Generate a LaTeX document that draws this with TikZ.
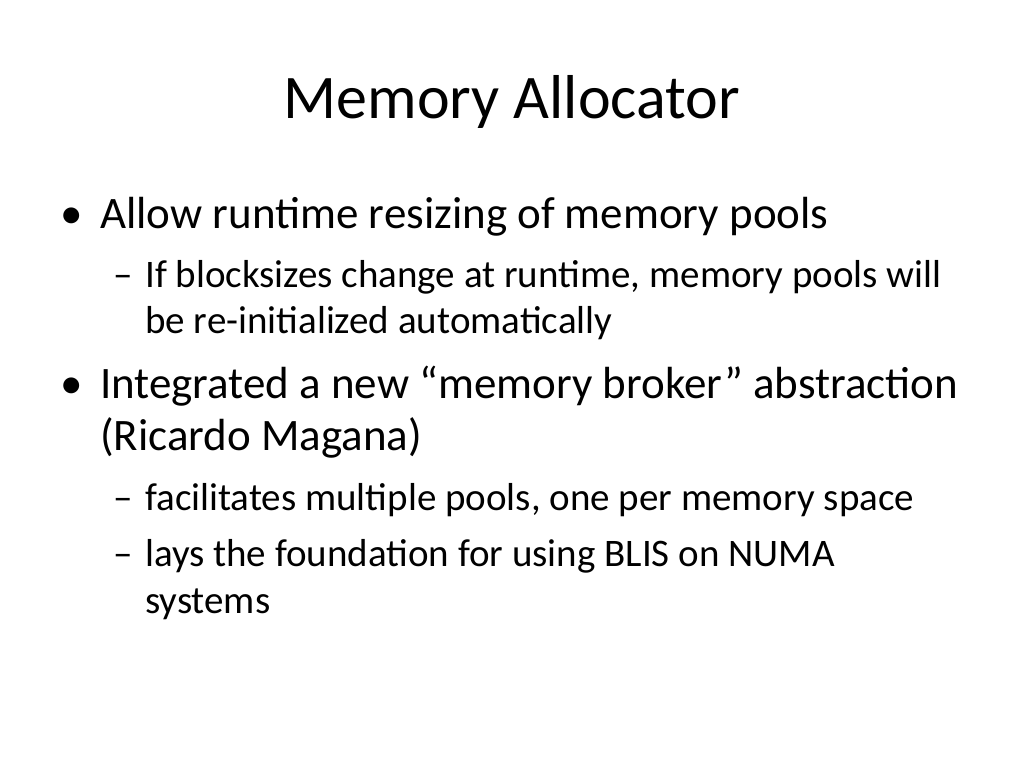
\documentclass[tikz,border=0pt]{standalone}
\usepackage{fontspec}
\setmainfont{Carlito}
\begin{document}
\begin{tikzpicture}[x=1pt,y=-1pt,
  l1/.style={anchor=base west,inner sep=0pt,font=\fontsize{45}{54}\selectfont},
  l2/.style={anchor=base west,inner sep=0pt,font=\fontsize{39}{47}\selectfont}]
\useasboundingbox (0,0) rectangle (1024,768);
\node[anchor=base,inner sep=0pt,font=\fontsize{62}{74}\selectfont] (title) at (512,118) {Memory Allocator};
\node[l1] (b1) at (60,228) {\textbullet};
\node[l1] (t1) at (100,228) {Allow runtime resizing of memory pools};
\node[l2] (d1) at (113,287) {–};
\node[l2] (t1a) at (145,287) {If blocksizes change at runtime, memory pools will};
\node[l2] (t1b) at (145,333) {be re-initialized automatically};
\node[l1] (b2) at (60,398) {\textbullet};
\node[l1] (t2) at (100,398) {Integrated a new “memory broker” abstraction};
\node[l1] (t2b) at (100,450) {(Ricardo Magana)};
\node[l2] (d2) at (113,510) {–};
\node[l2] (t2a) at (145,510) {facilitates multiple pools, one per memory space};
\node[l2] (d3) at (113,566) {–};
\node[l2] (t3a) at (145,566) {lays the foundation for using BLIS on NUMA};
\node[l2] (t3b) at (145,613) {systems};
\end{tikzpicture}
\end{document}
